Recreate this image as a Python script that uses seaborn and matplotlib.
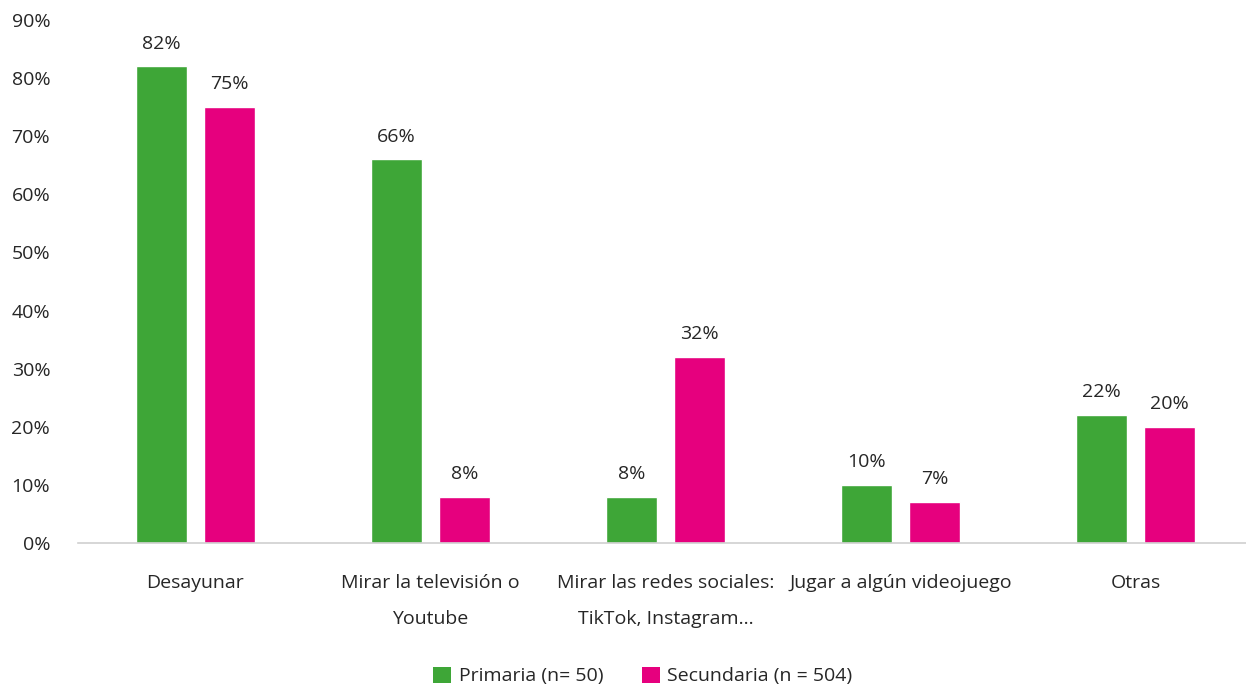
import matplotlib
matplotlib.use("Agg")
import matplotlib.pyplot as plt
import seaborn as sns
import pandas as pd
from matplotlib.patches import Patch
from matplotlib.ticker import FuncFormatter

# Activities and shares per school level (%)
categories = [
    "Desayunar",
    "Mirar la televisión o\nYoutube",
    "Mirar las redes sociales:\nTikTok, Instagram...",
    "Jugar a algún videojuego",
    "Otras",
]
series_names = ["Primaria (n= 50)", "Secundaria (n = 504)"]
primaria = [82, 66, 8, 10, 22]
secundaria = [75, 8, 32, 7, 20]
y_ticks = [0, 10, 20, 30, 40, 50, 60, 70, 80, 90]

colors = ["#3EA637", "#E6007E"]
text_color = "#262626"

df = pd.DataFrame({
    "actividad": categories * 2,
    "grupo": [series_names[0]] * len(categories) + [series_names[1]] * len(categories),
    "valor": primaria + secundaria,
})

sns.set_theme(style="white")
plt.rcParams["font.family"] = ["Open Sans", "DejaVu Sans"]

fig = plt.figure(figsize=(12.46, 6.88), dpi=100)
ax = fig.add_axes([78 / 1246, 145 / 688, 1168 / 1246, 523 / 688])

sns.barplot(
    data=df, x="actividad", y="valor", hue="grupo",
    order=categories, hue_order=series_names,
    palette=colors, width=0.58, gap=0.24, saturation=1,
    legend=False, ax=ax, errorbar=None,
)

for container in ax.containers:
    ax.bar_label(container, labels=[f"{v:.0f}%" for v in container.datavalues],
                 padding=10, fontsize=14, color=text_color)

ax.set_ylim(0, 90)
ax.set_yticks(y_ticks)
ax.yaxis.set_major_formatter(FuncFormatter(lambda v, _: f"{v:.0f}%"))
ax.set_xlim(-0.5, -0.5 + 1168 / 235)
ax.set_xlabel("")
ax.set_ylabel("")

for side in ["top", "right", "left"]:
    ax.spines[side].set_visible(False)
ax.spines["bottom"].set_color("#D0D0D0")
ax.spines["bottom"].set_linewidth(1.2)

ax.tick_params(axis="y", length=0, pad=20, labelsize=14, labelcolor=text_color)
ax.tick_params(axis="x", length=0, pad=22, labelsize=14, labelcolor=text_color)
for lbl in ax.get_xticklabels():
    lbl.set_linespacing(2.35)

handles = [Patch(facecolor=c, edgecolor="none") for c in colors]
fig.legend(handles, series_names, loc="center", bbox_to_anchor=(0.516, 12 / 688),
           ncol=2, frameon=False, fontsize=14, handlelength=0.9, handleheight=0.9,
           handletextpad=0.4, columnspacing=2.0, labelcolor=text_color)

fig.savefig("out.png", dpi=100)
